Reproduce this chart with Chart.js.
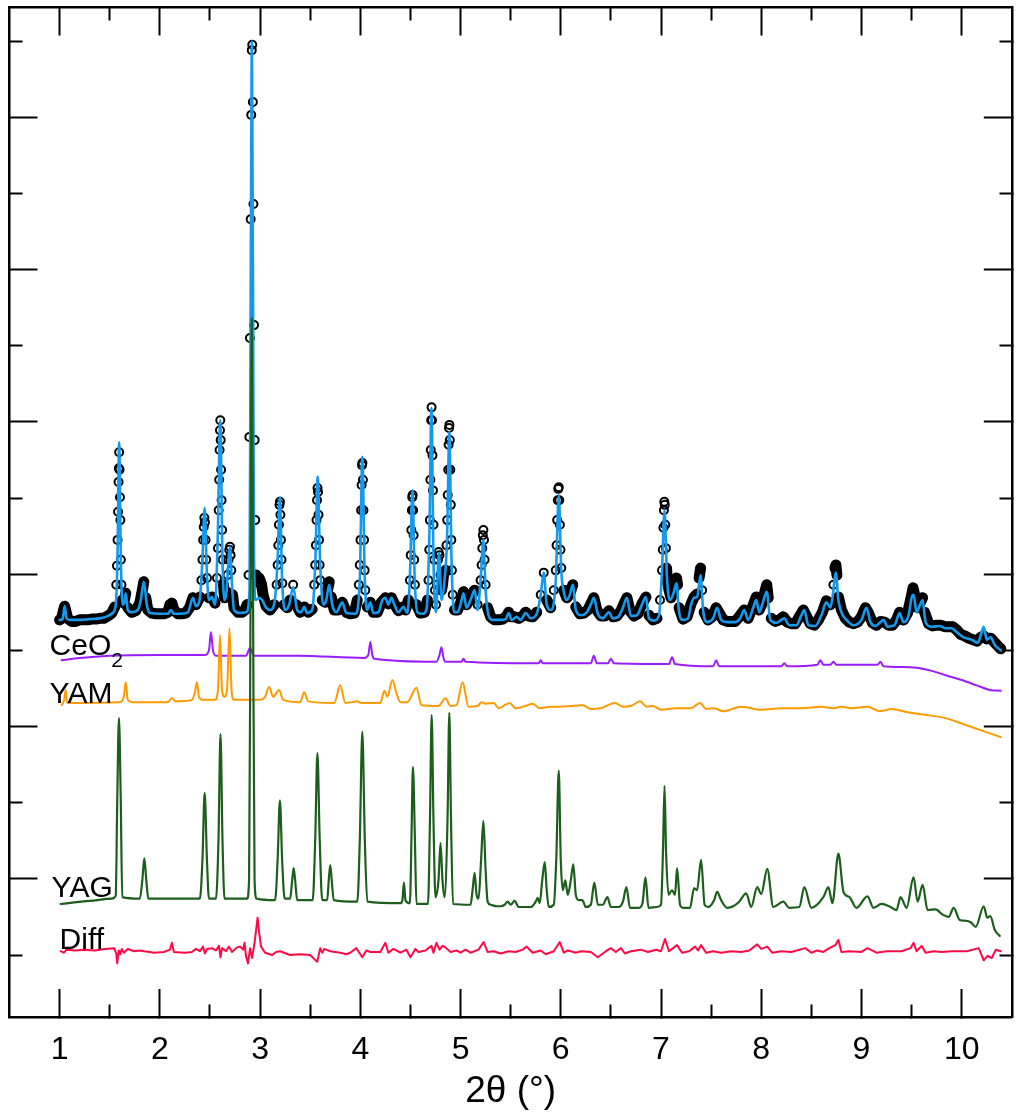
<!DOCTYPE html>
<html>
<head>
<meta charset="utf-8">
<title>Rietveld refinement – CeO2 / YAM / YAG</title>
<script src="https://cdn.jsdelivr.net/npm/chart.js@4.4.1/dist/chart.umd.min.js"></script>
<style>
  html, body { margin: 0; padding: 0; background: #fff; overflow: hidden; }
  #wrap { position: absolute; left: 0; top: 0; width: 1022px; height: 1118px; }
</style>
</head>
<body>
<div id="wrap"><canvas id="chart" width="1022" height="1118"></canvas></div>
<script>
// ---- Pattern data: [2θ (°), intensity (×10³ counts, stacked offsets)] ----

// measured intensities
const observed = [
  [1.00,4.40],[1.02,4.42],[1.04,4.53],[1.05,4.58],[1.06,4.53],[1.08,4.42],[1.12,4.38],[1.16,4.38],[1.20,4.40],[1.24,4.40],
  [1.28,4.40],[1.32,4.41],[1.36,4.41],[1.40,4.42],[1.44,4.42],[1.48,4.45],[1.52,4.49],
  [1.55,4.57],[1.565,4.86],[1.572,5.11],[1.578,5.45],[1.583,5.82],[1.588,6.21],[1.591,6.39],[1.594,6.60],[1.598,6.37],
  [1.602,6.01],[1.606,5.71],[1.611,5.19],[1.617,4.86],[1.625,4.66],
  [1.64,4.62],[1.66,4.75],[1.68,4.56],[1.72,4.50],[1.76,4.52],[1.80,4.62],[1.82,4.75],[1.84,4.90],[1.86,4.69],[1.88,4.53],
  [1.92,4.49],[1.96,4.48],[2.00,4.48],[2.04,4.48],[2.08,4.50],[2.10,4.60],[2.12,4.62],[2.14,4.53],[2.18,4.48],[2.22,4.48],
  [2.26,4.49],[2.30,4.57],[2.33,4.69],[2.36,4.60],[2.40,4.70],
  [2.415,4.92],[2.425,5.19],[2.432,5.45],[2.438,5.62],[2.444,5.74],[2.45,5.68],[2.456,5.45],[2.462,5.19],[2.47,4.95],
  [2.49,4.69],[2.52,4.70],[2.55,4.62],
  [2.57,4.95],[2.58,5.34],[2.587,5.84],[2.592,6.24],[2.596,6.63],[2.60,6.89],[2.603,7.02],[2.607,6.76],[2.611,6.37],
  [2.616,5.97],[2.621,5.58],[2.627,5.19],[2.635,4.86],[2.645,4.69],[2.665,4.77],
  [2.675,4.99],[2.685,5.19],[2.692,5.32],[2.70,5.36],[2.706,5.25],[2.713,5.05],[2.725,4.73],[2.74,4.56],[2.78,4.50],
  [2.82,4.50],[2.85,4.53],
  [2.87,4.60],[2.885,4.99],[2.893,6.80],[2.899,8.10],[2.906,9.66],[2.912,11.03],[2.917,11.88],[2.922,11.95],[2.928,11.20],
  [2.934,9.86],[2.940,8.27],[2.946,6.76],[2.952,5.71],[2.96,4.99],
  [2.975,4.90],[2.99,4.95],[3.00,4.92],[3.015,4.86],[3.03,4.73],[3.06,4.58],[3.10,4.53],[3.14,4.60],
  [3.165,4.86],[3.175,5.12],[3.182,5.38],[3.188,5.65],[3.194,5.91],[3.198,5.95],[3.203,5.78],[3.208,5.45],[3.214,5.19],
  [3.222,4.88],[3.24,4.60],[3.27,4.56],[3.30,4.66],[3.33,4.86],[3.36,4.60],[3.40,4.50],[3.44,4.57],[3.48,4.50],[3.52,4.54],
  [3.54,4.86],[3.55,5.12],[3.557,5.38],[3.563,5.71],[3.568,5.97],[3.573,6.13],[3.578,6.08],[3.583,5.78],[3.588,5.45],
  [3.594,5.12],[3.60,4.92],[3.62,4.66],[3.65,4.63],[3.67,4.77],[3.69,4.90],[3.71,4.70],[3.74,4.53],[3.78,4.53],[3.82,4.63],
  [3.86,4.50],[3.90,4.48],[3.94,4.49],[3.97,4.66],
  [3.985,4.86],[3.995,5.12],[4.002,5.45],[4.008,5.84],[4.013,6.17],[4.017,6.43],[4.021,6.46],[4.026,6.24],[4.031,5.84],
  [4.037,5.45],[4.043,5.05],[4.05,4.79],[4.07,4.57],[4.10,4.63],[4.13,4.50],[4.17,4.50],[4.21,4.63],[4.25,4.69],[4.28,4.61],
  [4.31,4.69],[4.34,4.61],[4.38,4.52],[4.42,4.57],[4.45,4.53],[4.48,4.66],
  [4.495,4.92],[4.503,5.25],[4.509,5.58],[4.514,5.84],[4.518,6.01],[4.522,6.04],[4.527,5.84],[4.532,5.51],[4.538,5.19],
  [4.545,4.86],[4.56,4.60],[4.60,4.49],[4.64,4.50],[4.67,4.66],
  [4.68,4.92],[4.688,5.32],[4.694,5.71],[4.699,6.24],[4.703,6.63],[4.707,7.02],[4.711,7.19],[4.715,7.02],[4.72,6.56],
  [4.725,6.10],[4.73,5.65],[4.737,5.19],[4.745,4.79],[4.755,4.60],
  [4.765,4.86],[4.775,5.19],[4.782,5.29],[4.79,5.25],[4.80,4.99],[4.81,4.79],[4.82,4.86],[4.83,4.99],
  [4.85,5.05],[4.86,5.38],[4.867,5.71],[4.872,6.04],[4.877,6.37],[4.881,6.70],[4.885,6.92],[4.889,6.96],[4.893,6.76],
  [4.898,6.37],[4.903,5.91],[4.908,5.45],[4.914,5.05],[4.922,4.73],[4.94,4.53],[4.97,4.53],[5.00,4.62],[5.03,4.77],
  [5.06,4.60],[5.10,4.69],[5.14,4.79],[5.17,4.60],[5.20,4.92],
  [5.21,5.12],[5.217,5.34],[5.222,5.51],[5.228,5.58],[5.234,5.45],[5.24,5.19],[5.25,4.86],[5.27,4.56],[5.30,4.44],
  [5.34,4.40],[5.38,4.40],[5.42,4.41],[5.46,4.45],[5.48,4.50],[5.50,4.44],[5.54,4.44],[5.58,4.42],[5.62,4.45],[5.65,4.50],
  [5.68,4.45],[5.72,4.44],[5.76,4.50],[5.80,4.73],[5.83,5.02],[5.86,4.66],[5.90,4.56],[5.93,4.79],
  [5.95,5.05],[5.958,5.38],[5.964,5.71],[5.97,5.97],[5.975,6.12],[5.98,6.14],[5.985,5.97],[5.991,5.65],[5.997,5.32],
  [6.005,5.08],[6.03,4.79],[6.06,4.69],[6.09,4.74],[6.12,4.86],[6.15,4.57],[6.19,4.48],[6.23,4.49],[6.27,4.53],[6.30,4.61],
  [6.33,4.69],[6.36,4.53],[6.40,4.45],[6.44,4.45],[6.48,4.52],[6.52,4.44],[6.56,4.45],[6.60,4.52],[6.63,4.61],[6.66,4.69],
  [6.69,4.52],[6.73,4.45],[6.77,4.48],[6.81,4.61],[6.85,4.70],[6.88,4.46],[6.92,4.40],[6.96,4.42],[6.99,4.66],
  [7.01,5.05],[7.018,5.32],[7.024,5.61],[7.029,5.84],[7.033,5.95],[7.038,5.91],[7.043,5.65],[7.049,5.34],[7.055,5.08],
  [7.065,4.90],[7.08,4.79],[7.10,4.69],[7.125,4.79],[7.145,4.92],[7.155,4.95],[7.165,4.86],[7.18,4.56],[7.22,4.41],
  [7.26,4.44],[7.30,4.61],[7.33,4.70],[7.36,4.74],[7.38,4.95],[7.395,5.08],[7.41,4.79],[7.43,4.50],[7.47,4.40],[7.51,4.44],
  [7.55,4.56],[7.58,4.49],[7.62,4.40],[7.66,4.38],[7.70,4.38],[7.74,4.38],[7.78,4.44],[7.83,4.53],[7.87,4.42],[7.91,4.56],
  [7.95,4.70],[7.98,4.53],[8.01,4.62],[8.04,4.79],[8.055,4.86],[8.07,4.69],[8.10,4.42],[8.14,4.38],[8.18,4.40],[8.22,4.44],
  [8.26,4.37],[8.30,4.35],[8.34,4.35],[8.38,4.44],[8.42,4.53],[8.45,4.45],[8.49,4.35],[8.53,4.33],[8.57,4.40],[8.61,4.50],
  [8.65,4.65],[8.69,4.60],[8.72,4.86],[8.735,5.08],[8.745,5.12],[8.755,4.99],[8.77,4.70],[8.80,4.53],[8.84,4.42],[8.88,4.37],
  [8.92,4.35],[8.96,4.37],[9.00,4.44],[9.04,4.56],[9.07,4.49],[9.11,4.36],[9.15,4.33],[9.19,4.38],[9.23,4.37],[9.27,4.33],
  [9.31,4.33],[9.35,4.40],[9.38,4.50],[9.42,4.40],[9.46,4.49],[9.49,4.66],[9.515,4.82],[9.535,4.70],[9.56,4.56],[9.585,4.62],
  [9.61,4.69],[9.63,4.50],[9.67,4.35],[9.71,4.32],[9.75,4.33],[9.79,4.33],[9.83,4.31],[9.87,4.31],[9.91,4.31],[9.95,4.27],
  [9.99,4.21],[10.03,4.19],[10.07,4.16],[10.11,4.14],[10.15,4.12],[10.19,4.17],[10.22,4.19],[10.25,4.15],[10.29,4.16],
  [10.33,4.10],[10.36,4.06],[10.39,4.02]
];

// calculated (refined) profile
const calculated = [
  [1.00,4.40],[1.03,4.41],[1.05,4.58],[1.07,4.42],[1.10,4.40],[1.20,4.40],[1.30,4.41],[1.40,4.42],[1.48,4.45],[1.53,4.49],
  [1.56,4.60],[1.577,5.19],[1.594,6.73],[1.611,5.19],[1.628,4.60],[1.645,4.62],[1.66,4.75],[1.68,4.53],[1.72,4.50],[1.78,4.53],
  [1.81,4.66],[1.84,4.90],[1.87,4.60],[1.90,4.49],[2.00,4.48],[2.08,4.48],[2.11,4.53],[2.14,4.48],[2.20,4.48],[2.28,4.50],
  [2.33,4.69],[2.36,4.58],[2.40,4.69],[2.425,5.19],[2.447,5.87],[2.47,4.99],[2.49,4.66],[2.52,4.70],[2.55,4.60],[2.577,5.45],
  [2.603,7.02],[2.625,5.19],[2.645,4.66],[2.665,4.77],[2.685,5.19],[2.70,5.36],[2.715,4.99],[2.74,4.53],[2.80,4.49],[2.86,4.50],
  [2.895,4.79],[2.905,8.21],[2.912,10.57],[2.918,11.99],[2.924,10.57],[2.931,8.21],[2.94,5.19],[2.955,4.66],[2.99,4.69],
  [3.02,4.66],[3.06,4.56],[3.10,4.53],[3.14,4.60],[3.175,5.19],[3.198,6.01],[3.22,4.92],[3.25,4.53],[3.29,4.60],[3.33,4.83],
  [3.37,4.53],[3.41,4.50],[3.44,4.57],[3.47,4.49],[3.52,4.53],[3.552,5.19],[3.575,6.28],[3.598,5.19],[3.63,4.60],[3.66,4.66],
  [3.69,4.86],[3.72,4.60],[3.76,4.50],[3.82,4.63],[3.86,4.49],[3.95,4.48],[3.995,4.92],[4.02,6.54],[4.045,4.92],[4.07,4.53],
  [4.10,4.63],[4.13,4.49],[4.18,4.50],[4.22,4.66],[4.25,4.69],[4.28,4.60],[4.31,4.69],[4.34,4.60],[4.38,4.50],[4.43,4.57],
  [4.47,4.49],[4.497,5.05],[4.52,6.10],[4.543,4.92],[4.57,4.50],[4.62,4.48],[4.66,4.53],[4.69,5.58],[4.71,7.18],[4.73,5.19],
  [4.755,4.50],[4.785,5.28],[4.81,4.66],[4.84,4.92],[4.865,5.45],[4.888,6.87],[4.91,5.19],[4.935,4.50],[4.97,4.50],[5.00,4.60],
  [5.03,4.75],[5.06,4.56],[5.10,4.66],[5.14,4.79],[5.17,4.53],[5.20,4.92],[5.228,5.45],[5.25,4.79],[5.28,4.46],[5.32,4.40],
  [5.40,4.40],[5.45,4.41],[5.48,4.49],[5.51,4.40],[5.56,4.44],[5.60,4.40],[5.65,4.49],[5.70,4.42],[5.76,4.48],[5.80,4.73],
  [5.83,5.02],[5.86,4.60],[5.90,4.53],[5.95,4.92],[5.98,6.04],[6.005,5.05],[6.03,4.77],[6.06,4.66],[6.09,4.73],[6.12,4.86],
  [6.15,4.53],[6.20,4.46],[6.26,4.50],[6.30,4.60],[6.33,4.69],[6.37,4.48],[6.42,4.42],[6.48,4.50],[6.52,4.42],[6.58,4.45],
  [6.62,4.56],[6.66,4.69],[6.70,4.45],[6.76,4.46],[6.81,4.60],[6.85,4.70],[6.88,4.42],[6.93,4.39],[6.98,4.46],[7.01,5.05],
  [7.035,5.84],[7.06,4.95],[7.09,4.66],[7.12,4.73],[7.155,4.88],[7.18,4.50],[7.22,4.40],[7.27,4.42],[7.30,4.60],[7.33,4.69],
  [7.36,4.70],[7.395,4.99],[7.42,4.53],[7.46,4.37],[7.52,4.42],[7.56,4.56],[7.60,4.40],[7.67,4.37],[7.74,4.37],[7.79,4.42],
  [7.83,4.53],[7.87,4.40],[7.92,4.56],[7.95,4.66],[7.98,4.50],[8.01,4.60],[8.055,4.77],[8.09,4.40],[8.15,4.36],[8.20,4.40],
  [8.23,4.42],[8.28,4.33],[8.35,4.33],[8.40,4.46],[8.43,4.53],[8.47,4.33],[8.54,4.32],[8.60,4.46],[8.65,4.63],[8.69,4.56],
  [8.72,4.79],[8.742,5.02],[8.77,4.66],[8.80,4.50],[8.85,4.40],[8.92,4.33],[9.00,4.40],[9.05,4.56],[9.09,4.37],[9.14,4.32],
  [9.19,4.37],[9.22,4.40],[9.26,4.31],[9.33,4.33],[9.38,4.49],[9.42,4.37],[9.47,4.46],[9.50,4.69],[9.52,4.73],[9.55,4.50],
  [9.585,4.60],[9.61,4.66],[9.64,4.37],[9.70,4.31],[9.78,4.32],[9.84,4.29],[9.90,4.29],[9.95,4.24],[10.02,4.17],[10.10,4.14],
  [10.16,4.10],[10.20,4.24],[10.22,4.31],[10.25,4.14],[10.29,4.17],[10.33,4.07],[10.39,4.00]
];

// CeO2 phase contribution
const phaseCeO2 = [
  [1.02,3.87],[1.20,3.90],[1.50,3.93],[2.00,3.94],[2.45,3.94],[2.49,4.00],[2.51,4.24],[2.53,4.00],[2.56,3.93],[2.86,3.93],
  [2.90,4.03],[2.94,3.93],[3.38,3.93],[4.04,3.90],[4.08,3.94],[4.10,4.11],[4.12,3.94],[4.14,3.89],[4.76,3.85],[4.79,3.94],
  [4.81,4.04],[4.83,3.90],[4.85,3.85],[5.01,3.85],[5.03,3.89],[5.05,3.85],[5.78,3.83],[5.80,3.87],[5.82,3.83],[6.30,3.83],
  [6.33,3.93],[6.36,3.83],[6.47,3.83],[6.50,3.89],[6.53,3.83],[7.08,3.82],[7.11,3.91],[7.14,3.82],[7.52,3.79],[7.55,3.87],
  [7.58,3.79],[8.20,3.79],[8.23,3.83],[8.26,3.79],[8.56,3.81],[8.59,3.87],[8.62,3.81],[8.69,3.81],[8.72,3.85],[8.75,3.81],
  [9.16,3.81],[9.19,3.85],[9.22,3.79],[9.40,3.78],[9.55,3.77],[9.70,3.73],[9.85,3.67],[10.00,3.61],[10.15,3.54],[10.28,3.48],
  [10.39,3.47]
];

// YAM (Y4Al2O9) phase contribution
const phaseYAM = [
  [1.02,3.28],[1.045,3.35],[1.06,3.48],[1.075,3.31],[1.10,3.31],[1.60,3.32],[1.64,3.39],[1.66,3.58],[1.68,3.35],[1.72,3.32],
  [2.08,3.32],[2.12,3.37],[2.16,3.33],[2.32,3.35],[2.35,3.45],[2.37,3.58],[2.39,3.39],[2.42,3.35],[2.55,3.35],[2.58,3.48],
  [2.60,4.20],[2.62,3.48],[2.645,3.39],[2.67,3.48],[2.695,4.29],[2.715,3.48],[2.74,3.35],[3.00,3.35],[3.05,3.39],[3.09,3.52],
  [3.13,3.39],[3.19,3.48],[3.23,3.35],[3.40,3.32],[3.44,3.45],[3.48,3.33],[3.74,3.31],[3.80,3.54],[3.85,3.31],[3.93,3.32],
  [3.97,3.33],[4.01,3.31],[4.20,3.31],[4.24,3.47],[4.27,3.39],[4.32,3.61],[4.36,3.44],[4.40,3.32],[4.47,3.32],[4.56,3.51],
  [4.61,3.28],[4.78,3.27],[4.85,3.37],[4.90,3.27],[4.96,3.28],[5.02,3.58],[5.08,3.26],[5.17,3.27],[5.21,3.32],[5.25,3.30],
  [5.33,3.31],[5.38,3.24],[5.49,3.31],[5.55,3.24],[5.65,3.27],[5.72,3.30],[5.79,3.24],[5.90,3.26],[6.00,3.26],[6.10,3.27],
  [6.22,3.28],[6.30,3.23],[6.40,3.24],[6.54,3.31],[6.62,3.26],[6.70,3.27],[6.79,3.33],[6.86,3.26],[6.92,3.27],[7.00,3.22],
  [7.15,3.24],[7.30,3.24],[7.39,3.31],[7.45,3.23],[7.53,3.24],[7.62,3.20],[7.80,3.26],[8.00,3.22],[8.20,3.24],[8.40,3.24],
  [8.60,3.26],[8.72,3.24],[8.80,3.26],[8.90,3.24],[9.06,3.26],[9.18,3.20],[9.30,3.23],[9.45,3.19],[9.60,3.16],[9.84,3.11],
  [10.04,3.02],[10.24,2.93],[10.39,2.86]
];

// YAG (Y3Al5O12) phase contribution
const phaseYAG = [
  [1.01,0.67],[1.30,0.71],[1.52,0.74],[1.56,0.78],[1.575,2.03],[1.592,3.11],[1.61,2.03],[1.625,0.76],[1.80,0.74],[1.825,0.98],
  [1.845,1.27],[1.865,0.98],[1.885,0.74],[2.40,0.74],[2.425,1.25],[2.447,2.13],[2.47,1.25],[2.49,0.74],[2.56,0.74],[2.585,1.51],
  [2.605,2.90],[2.625,1.51],[2.645,0.74],[2.87,0.74],[2.89,0.98],[2.905,4.66],[2.917,8.36],[2.93,4.66],[2.945,0.98],[2.965,0.74],
  [3.15,0.72],[3.175,1.25],[3.198,2.03],[3.22,1.25],[3.245,0.74],[3.30,0.74],[3.32,0.98],[3.335,1.14],[3.35,0.98],[3.37,0.72],
  [3.525,0.72],[3.55,1.51],[3.572,2.65],[3.595,1.51],[3.62,0.72],[3.67,0.72],[3.685,0.98],[3.70,1.18],[3.715,0.98],[3.735,0.72],
  [3.97,0.70],[3.995,1.51],[4.02,2.93],[4.045,1.51],[4.07,0.70],[4.40,0.68],[4.42,0.72],[4.435,0.95],[4.45,0.72],[4.495,0.68],
  [4.51,1.51],[4.525,2.47],[4.545,1.51],[4.56,0.67],[4.675,0.67],[4.695,1.77],[4.712,3.15],[4.73,1.77],[4.75,0.76],[4.78,0.98],
  [4.80,1.47],[4.82,0.98],[4.84,0.76],[4.87,1.77],[4.888,3.18],[4.905,1.77],[4.925,0.67],[5.10,0.66],[5.12,0.85],[5.14,1.08],
  [5.16,0.79],[5.18,0.74],[5.205,1.25],[5.228,1.76],[5.25,1.12],[5.27,0.70],[5.30,0.66],[5.36,0.64],[5.40,0.64],[5.44,0.66],
  [5.47,0.70],[5.50,0.66],[5.54,0.71],[5.58,0.63],[5.70,0.63],[5.75,0.70],[5.77,0.75],[5.79,0.68],[5.815,0.98],[5.84,1.22],
  [5.86,0.85],[5.88,0.63],[5.93,0.66],[5.955,1.25],[5.98,2.42],[6.00,1.25],[6.02,0.85],[6.045,0.98],[6.07,0.79],[6.10,0.98],
  [6.125,1.19],[6.15,0.79],[6.18,0.72],[6.215,0.72],[6.25,0.63],[6.30,0.66],[6.335,0.95],[6.37,0.66],[6.42,0.66],[6.465,0.76],
  [6.50,0.63],[6.58,0.63],[6.62,0.70],[6.655,0.89],[6.69,0.62],[6.78,0.62],[6.815,0.68],[6.845,1.02],[6.875,0.62],[6.96,0.63],
  [7.00,0.66],[7.02,1.38],[7.035,2.22],[7.05,1.38],[7.075,0.79],[7.11,0.85],[7.14,0.79],[7.16,1.14],[7.19,0.66],[7.22,0.62],
  [7.29,0.62],[7.33,0.88],[7.36,0.85],[7.40,1.25],[7.435,0.66],[7.47,0.63],[7.53,0.72],[7.56,0.83],[7.60,0.72],[7.66,0.62],
  [7.72,0.64],[7.78,0.70],[7.85,0.81],[7.90,0.63],[7.96,0.89],[8.00,0.80],[8.06,1.13],[8.12,0.63],[8.22,0.70],[8.28,0.62],
  [8.38,0.63],[8.43,0.89],[8.50,0.62],[8.62,0.76],[8.67,0.89],[8.71,0.68],[8.77,1.33],[8.82,0.83],[8.88,0.76],[8.95,0.62],
  [9.06,0.77],[9.12,0.62],[9.20,0.67],[9.29,0.63],[9.35,0.59],[9.39,0.76],[9.45,0.62],[9.52,1.02],[9.56,0.70],[9.61,0.92],
  [9.66,0.59],[9.74,0.60],[9.81,0.53],[9.87,0.50],[9.92,0.62],[9.98,0.46],[10.04,0.45],[10.09,0.43],[10.14,0.37],[10.22,0.64],
  [10.255,0.49],[10.285,0.51],[10.33,0.33],[10.38,0.25]
];

// observed − calculated
const difference = [
  [1.01,0.05],[1.04,0.03],[1.07,0.07],[1.15,0.06],[1.25,0.07],[1.35,0.06],[1.45,0.08],[1.545,0.09],[1.565,0.02],[1.575,-0.11],
  [1.59,0.06],[1.605,0.01],[1.62,0.08],[1.64,0.03],[1.68,0.08],[1.74,0.05],[1.80,0.06],[1.84,0.05],[1.90,0.04],[1.94,0.03],
  [2.04,0.04],[2.10,0.07],[2.12,0.16],[2.14,0.04],[2.25,0.03],[2.32,0.04],[2.36,0.08],[2.40,0.05],[2.43,0.11],[2.45,0.02],
  [2.47,0.08],[2.52,0.09],[2.56,0.06],[2.59,0.12],[2.605,-0.03],[2.62,0.09],[2.66,0.05],[2.69,0.11],[2.72,0.04],[2.77,0.10],
  [2.80,0.11],[2.83,0.07],[2.845,0.16],[2.86,-0.02],[2.88,-0.11],[2.90,0.09],[2.92,-0.04],[2.945,0.16],[2.975,0.49],[2.99,0.30],
  [3.01,0.11],[3.05,0.03],[3.12,0.00],[3.16,0.04],[3.20,0.05],[3.26,0.02],[3.30,0.00],[3.40,0.01],[3.50,0.00],[3.57,-0.09],
  [3.60,0.09],[3.62,0.03],[3.64,0.08],[3.70,0.05],[3.80,0.03],[3.86,0.01],[3.90,0.03],[3.96,0.09],[4.02,-0.03],[4.06,0.06],
  [4.10,0.04],[4.20,0.04],[4.25,0.16],[4.28,0.03],[4.33,0.08],[4.40,0.03],[4.46,0.07],[4.50,-0.03],[4.55,0.08],[4.58,0.04],
  [4.65,0.06],[4.71,0.12],[4.73,0.03],[4.76,0.16],[4.79,0.07],[4.82,0.12],[4.85,0.10],[4.90,0.04],[4.96,0.06],[5.00,0.03],
  [5.05,0.07],[5.10,0.03],[5.18,0.07],[5.23,0.17],[5.27,0.04],[5.33,0.05],[5.40,0.02],[5.48,0.05],[5.55,0.04],[5.62,0.07],
  [5.66,0.11],[5.72,0.03],[5.80,0.06],[5.85,0.01],[5.93,0.05],[5.99,0.17],[6.03,0.03],[6.07,0.06],[6.10,0.05],[6.15,0.03],
  [6.20,0.05],[6.30,0.04],[6.37,-0.03],[6.45,0.05],[6.50,0.09],[6.55,0.04],[6.60,0.09],[6.64,0.02],[6.70,0.05],[6.80,0.07],
  [6.87,0.04],[6.95,0.07],[7.00,0.05],[7.04,0.21],[7.08,0.05],[7.12,0.09],[7.16,0.13],[7.21,0.03],[7.28,0.05],[7.34,0.11],
  [7.37,0.06],[7.40,0.13],[7.45,0.03],[7.52,0.05],[7.60,0.03],[7.70,0.05],[7.80,0.04],[7.88,0.06],[7.96,0.14],[8.00,0.08],
  [8.06,0.11],[8.11,0.03],[8.20,0.05],[8.30,0.04],[8.44,0.09],[8.50,0.03],[8.56,0.06],[8.62,0.04],[8.68,0.09],[8.74,0.13],
  [8.77,0.20],[8.80,0.04],[8.88,0.05],[9.00,0.04],[9.06,0.09],[9.15,0.03],[9.25,0.05],[9.40,0.05],[9.49,0.09],[9.52,0.16],
  [9.55,0.05],[9.60,0.12],[9.64,0.03],[9.72,0.05],[9.80,0.04],[9.90,0.05],[10.05,0.05],[10.17,0.09],[10.22,-0.07],[10.26,-0.01],
  [10.30,-0.04],[10.34,0.07],[10.39,0.05]
];

// axis ticks
const xMajorTicks = [1, 2, 3, 4, 5, 6, 7, 8, 9, 10];
const xMinorTicks = [1.5, 2.5, 3.5, 4.5, 5.5, 6.5, 7.5, 8.5, 9.5];
const yMajorTicks = [1, 3, 5, 7, 9, 11];
const yMinorTicks = [0, 2, 4, 6, 8, 10, 12];

// curve labels, anchored in data coordinates (left end of text baseline)
const curveLabels = [
  { text: 'CeO', sub: '2', x: 0.90, y: 3.94 },
  { text: 'YAM', x: 0.90, y: 3.31 },
  { text: 'YAG', x: 0.92, y: 0.76 },
  { text: 'Diff', x: 1.00, y: 0.08 }
];

// ---- rendering ----
const FONT = "'Liberation Sans', Arial, Helvetica, sans-serif";
const TICK_LONG = 28;
const TICK_SHORT = 14;
const BAND_WIDTH = 11;      // overlapping-marker band along the slowly varying parts of the measured pattern
const BAND_MAX_RISE = 14;   // px rise between neighbours above which the band is not drawn
const BAND_MIN_RUN = 0.95;  // px run between neighbours below which the band is not drawn (peak scans)

const toPoints = rows => rows.map(r => ({ x: r[0], y: r[1] }));
const sortedTicks = (a, b) => a.concat(b).sort((p, q) => p - q).map(v => ({ value: v }));

// inward ticks: full length for majors, dash trims minors to the short length
function tickDash(majors, startsAtFrame) {
  return ctx => {
    const v = ctx.tick ? ctx.tick.value : NaN;
    if (majors.includes(v)) return [];
    return startsAtFrame ? [TICK_SHORT, 400] : [0, TICK_LONG - TICK_SHORT + 1, TICK_SHORT, 400];
  };
}

function frameAxis(axis, position, majors, minors, startsAtFrame, size, extra) {
  const base = {
    type: 'linear',
    position,
    border: { display: true, color: '#000', width: 2.5 },
    grid: {
      display: true,
      drawOnChartArea: false,
      drawTicks: true,
      tickLength: -TICK_LONG,
      tickWidth: 2,
      tickColor: '#000',
      tickBorderDash: tickDash(majors, startsAtFrame)
    },
    ticks: { display: false },
    afterBuildTicks: s => { s.ticks = sortedTicks(majors, minors); },
    afterFit: s => {
      if (axis === 'x') s.height = size; else s.width = size;
    }
  };
  if (axis === 'x') { base.min = 0.5; base.max = 10.5; }
  else { base.min = -0.814; base.max = 12.44; }
  return Object.assign(base, extra || {});
}

const labelPlugin = {
  id: 'curveLabels',
  afterDatasetsDraw(chart) {
    const { ctx } = chart;
    const xs = chart.scales.x, ys = chart.scales.y;
    ctx.save();
    ctx.fillStyle = '#000';
    ctx.textAlign = 'left';
    ctx.textBaseline = 'alphabetic';
    curveLabels.forEach(l => {
      const px = xs.getPixelForValue(l.x);
      const py = ys.getPixelForValue(l.y);
      ctx.font = '30px ' + FONT;
      ctx.fillText(l.text, px, py);
      if (l.sub) {
        const w = ctx.measureText(l.text).width;
        ctx.font = '21px ' + FONT;
        ctx.fillText(l.sub, px + w, py + 12);
      }
    });
    ctx.restore();
  }
};

const lineSet = (label, rows, color, width, smooth) => ({
  label,
  data: toPoints(rows),
  showLine: true,
  borderColor: color,
  borderWidth: width,
  pointRadius: 0,
  pointHoverRadius: 0,
  tension: smooth ? 0.4 : 0,
  cubicInterpolationMode: smooth ? 'monotone' : 'default',
  borderJoinStyle: 'round',
  borderCapStyle: 'round',
  fill: false
});

const bandColor = ctx => {
  const run = Math.abs(ctx.p1.x - ctx.p0.x);
  const rise = Math.abs(ctx.p1.y - ctx.p0.y);
  return (rise > BAND_MAX_RISE || run < BAND_MIN_RUN) ? 'rgba(0,0,0,0)' : '#000';
};

new Chart(document.getElementById('chart'), {
  type: 'scatter',
  data: {
    // first dataset is painted last (on top)
    datasets: [
      lineSet('YAG', phaseYAG, '#1c5e1c', 2.2, true),
      lineSet('Diff', difference, '#ff0a45', 2, false),
      lineSet('YAM', phaseYAM, '#ff9a00', 2, true),
      lineSet('CeO2', phaseCeO2, '#9b1cff', 2, true),
      lineSet('Calc', calculated, '#1599ec', 2.6, true),
      {
        label: 'Obs',
        data: toPoints(observed),
        showLine: true,
        borderColor: '#000',
        borderWidth: BAND_WIDTH,
        borderJoinStyle: 'round',
        borderCapStyle: 'round',
        tension: 0,
        segment: { borderColor: bandColor },
        pointStyle: 'circle',
        pointRadius: 4,
        pointBorderWidth: 2,
        pointBorderColor: '#000',
        pointBackgroundColor: 'rgba(0,0,0,0)',
        pointHoverRadius: 4
      }
    ]
  },
  options: {
    responsive: false,
    animation: false,
    events: [],
    layout: { padding: 0 },
    plugins: { legend: { display: false }, tooltip: { enabled: false } },
    scales: {
      x: frameAxis('x', 'bottom', xMajorTicks, xMinorTicks, true, 101, {
        ticks: {
          display: true,
          autoSkip: false,
          maxRotation: 0,
          minRotation: 0,
          padding: 42,
          color: '#000',
          font: { family: FONT, size: 32 },
          callback: v => (xMajorTicks.includes(v) ? String(v) : '')
        },
        title: {
          display: true,
          text: '2θ (°)',
          color: '#000',
          font: { family: FONT, size: 37 },
          padding: { top: 0, bottom: 4 }
        }
      }),
      x2: frameAxis('x', 'top', xMajorTicks, xMinorTicks, false, 7.5),
      y: frameAxis('y', 'left', yMajorTicks, yMinorTicks, false, 9.5),
      y2: frameAxis('y', 'right', yMajorTicks, yMinorTicks, true, 2.5)
    }
  },
  plugins: [labelPlugin]
});
</script>
</body>
</html>
